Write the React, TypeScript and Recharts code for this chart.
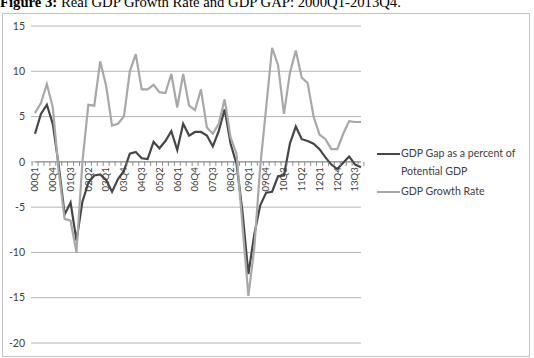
import React from 'react';
import { CartesianGrid, Legend, Line, LineChart, ReferenceLine, XAxis, YAxis } from 'recharts';

const QUARTERS = [
  '00Q1', '00Q2', '00Q3', '00Q4', '01Q1', '01Q2', '01Q3', '01Q4',
  '02Q1', '02Q2', '02Q3', '02Q4', '03Q1', '03Q2', '03Q3', '03Q4',
  '04Q1', '04Q2', '04Q3', '04Q4', '05Q1', '05Q2', '05Q3', '05Q4',
  '06Q1', '06Q2', '06Q3', '06Q4', '07Q1', '07Q2', '07Q3', '07Q4',
  '08Q1', '08Q2', '08Q3', '08Q4', '09Q1', '09Q2', '09Q3', '09Q4',
  '10Q1', '10Q2', '10Q3', '10Q4', '11Q1', '11Q2', '11Q3', '11Q4',
  '12Q1', '12Q2', '12Q3', '12Q4', '13Q1', '13Q2', '13Q3', '13Q4',
];

const TICK_LABELS = [
  '00Q1', '00Q4', '01Q3', '02Q2', '03Q1', '03Q4', '04Q3', '05Q2', '06Q1', '06Q4',
  '07Q3', '08Q2', '09Q1', '09Q4', '10Q3', '11Q2', '12Q1', '12Q4', '13Q3',
];

const GDP_GAP = [
  3.1, 5.3, 6.3, 4.2, -0.4, -5.8, -4.5, -8.7,
  -4.4, -2.3, -1.5, -1.4, -2.0, -3.3, -1.9, -1.0,
  0.9, 1.1, 0.4, 0.3, 2.2, 1.5, 2.3, 3.4,
  1.3, 4.2, 2.9, 3.3, 3.3, 2.9, 1.7, 3.4,
  5.8, 2.0, -0.2, -5.5, -12.4, -8.0, -4.8, -3.4,
  -3.3, -1.6, -1.5, 2.0, 3.9, 2.5, 2.3, 2.0,
  1.4, 0.5, -0.3, -0.8, -0.1, 0.6, -0.3, -0.6,
];

const GDP_GROWTH = [
  5.4, 6.5, 8.6, 6.0, -1.0, -6.3, -6.5, -10.0,
  0.0, 6.3, 6.2, 11.1, 8.4, 4.0, 4.2, 5.0,
  10.0, 11.9, 8.0, 8.0, 8.5, 7.7, 7.6, 9.7,
  6.0, 9.7, 6.2, 5.7, 8.0, 3.8, 3.1, 4.2,
  6.9, 2.7, 0.9, -7.0, -14.8, -9.5, -0.5, 6.0,
  12.6, 10.7, 5.3, 9.8, 12.3, 9.3, 8.7, 5.0,
  3.0, 2.5, 1.4, 1.4, 3.1, 4.5, 4.4, 4.4,
];

const Y_TICKS = [-20, -15, -10, -5, 0, 5, 10, 15];

const W = 534;
const H = 358;
const MARGIN = { top: 26, right: 173, bottom: 14, left: 0 };
const Y_AXIS_W = 35;
const X_AXIS_H = 1;
const PLOT_H = H - MARGIN.top - MARGIN.bottom - X_AXIS_H;
const PLOT_W = W - MARGIN.left - MARGIN.right - Y_AXIS_W;
const BAND = PLOT_W / QUARTERS.length;
const ZERO_Y = MARGIN.top + (PLOT_H * 15) / 35;

const GRID = '#b4b4b4';
const AXIS = '#8a8a8a';
const LABEL = '#404040';
const DARK = '#464646';
const LIGHT = '#a8a8a8';
const FONT = 'Lato, "Liberation Sans", sans-serif';

const data = QUARTERS.map((q, i) => ({ q, gap: GDP_GAP[i], growth: GDP_GROWTH[i] }));

function QuarterTick(props: any) {
  const { x, payload } = props;
  const idx = payload?.index ?? props.index;
  const left = x - BAND / 2;
  return (
    <g>
      <line x1={left} x2={left} y1={ZERO_Y} y2={ZERO_Y + 4} stroke={AXIS} />
      {idx === QUARTERS.length - 1 && (
        <line x1={x + BAND / 2} x2={x + BAND / 2} y1={ZERO_Y} y2={ZERO_Y + 4} stroke={AXIS} />
      )}
      {TICK_LABELS.includes(payload.value) && (
        <text
          transform={`translate(${x + 3.3},${ZERO_Y + 5.5}) rotate(-90)`}
          textAnchor="end"
          fontSize={9.5}
          fontFamily={FONT}
          fill={LABEL}
        >
          {payload.value}
        </text>
      )}
    </g>
  );
}

function renderLegend(props: any) {
  const items = props.payload || [];
  return (
    <div style={{ fontFamily: FONT, fontSize: 10.6, color: LABEL }}>
      {items.map((it: any, i: number) => (
        <div key={i} style={{ display: 'flex', alignItems: 'flex-start', marginTop: i === 0 ? 0 : 3 }}>
          <div style={{ width: 23, height: 2.5, background: it.color, marginTop: 7.5, marginRight: 1 }} />
          <div style={{ width: 125, lineHeight: '17.5px' }}>{it.value}</div>
        </div>
      ))}
    </div>
  );
}

export default function App() {
  return (
    <div style={{ position: 'absolute', left: 0, top: 0, width: W, height: H, overflow: 'hidden', background: '#fff' }}>
      <svg width={W} height={14} style={{ position: 'absolute', left: 0, top: 0 }}>
        <text x={0} y={6.5} fontFamily='"Liberation Serif", serif' fontSize={14.7} fill="#000">
          <tspan fontWeight="bold">Figure 3:</tspan>
          <tspan> Real GDP Growth Rate and GDP GAP: 2000Q1-2013Q4.</tspan>
        </text>
      </svg>
      <div
        style={{
          position: 'absolute',
          left: 2,
          top: 13,
          width: 526,
          height: 342,
          border: '1px solid #c4c4c4',
        }}
      />
      <div style={{ position: 'absolute', left: 0, top: 0 }}>
        <LineChart width={W} height={H} data={data} margin={MARGIN}>
          <CartesianGrid vertical={false} stroke={GRID} />
          <XAxis
            dataKey="q"
            height={X_AXIS_H}
            interval={0}
            axisLine={false}
            tickLine={false}
            tickSize={0}
            tickMargin={0}
            tick={QuarterTick}
          />
          <YAxis
            width={Y_AXIS_W}
            domain={[-20, 15]}
            ticks={Y_TICKS}
            axisLine={false}
            tickLine={{ stroke: GRID }}
            tickSize={4}
            tickMargin={6}
            tick={{ fill: LABEL, fontSize: 10.5, fontFamily: FONT }}
          />
          <ReferenceLine y={0} stroke={AXIS} />
          <Line
            dataKey="gap"
            name="GDP Gap as a percent of Potential GDP"
            stroke={DARK}
            strokeWidth={2.2}
            dot={false}
            isAnimationActive={false}
          />
          <Line
            dataKey="growth"
            name="GDP Growth Rate"
            stroke={LIGHT}
            strokeWidth={2.2}
            dot={false}
            isAnimationActive={false}
          />
          <Legend
            layout="vertical"
            align="center"
            verticalAlign="middle"
            content={renderLegend}
            wrapperStyle={{ left: 377, top: 145, width: 150 }}
          />
        </LineChart>
      </div>
    </div>
  );
}
